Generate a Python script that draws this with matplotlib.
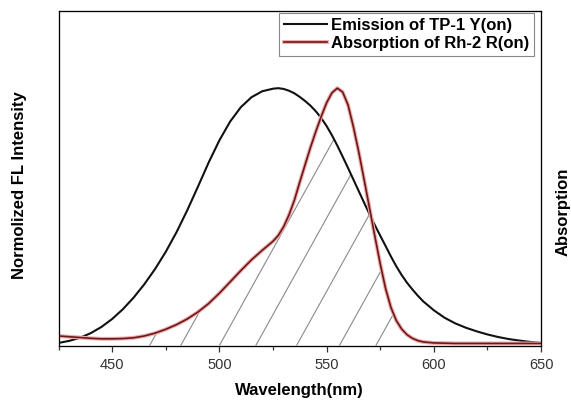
import numpy as np
import matplotlib
matplotlib.use("Agg")
import matplotlib.pyplot as plt
import matplotlib.patheffects as pe

plt.rcParams['font.family'] = ['Liberation Sans', 'DejaVu Sans']

# wavelength grid (nm), finer where the curves bend most
wl = [425, 430, 435, 440, 445, 450, 455, 460, 465, 470, 475, 480, 485, 490,
      495, 500, 505, 510, 515, 520, 525, 527.5, 530, 532.5, 535, 537.5, 540,
      542.5, 545, 547.5, 550, 552.5, 555, 557.5, 560, 562.5, 565, 567.5, 570,
      572.5, 575, 577.5, 580, 582.5, 585, 587.5, 590, 592.5, 595, 600, 605,
      610, 615, 620, 625, 630, 635, 640, 645, 650]

# Emission of TP-1 Y(on), normalized
emission = [0.010, 0.018, 0.030, 0.048, 0.072, 0.103, 0.141, 0.186, 0.238,
            0.297, 0.364, 0.440, 0.525, 0.617, 0.711, 0.797, 0.870, 0.926,
            0.965, 0.988, 0.998, 1.000, 0.997, 0.990, 0.980, 0.966, 0.950,
            0.932, 0.910, 0.884, 0.853, 0.817, 0.777, 0.734, 0.690, 0.645,
            0.600, 0.555, 0.511, 0.468, 0.427, 0.387, 0.346, 0.308, 0.274,
            0.244, 0.218, 0.194, 0.172, 0.137, 0.108, 0.086, 0.069, 0.055,
            0.043, 0.033, 0.025, 0.019, 0.014, 0.010]

# Absorption of Rh-2 R(on), normalized
absorption = [0.037, 0.034, 0.031, 0.028, 0.026, 0.026, 0.027, 0.030, 0.037,
              0.048, 0.063, 0.081, 0.103, 0.130, 0.163, 0.203, 0.247, 0.291,
              0.333, 0.370, 0.405, 0.428, 0.462, 0.508, 0.565, 0.635, 0.703,
              0.770, 0.832, 0.890, 0.943, 0.982, 1.000, 0.985, 0.935, 0.850,
              0.752, 0.645, 0.535, 0.425, 0.318, 0.222, 0.148, 0.097, 0.064,
              0.042, 0.028, 0.019, 0.014, 0.010, 0.009, 0.008, 0.008, 0.008,
              0.008, 0.008, 0.008, 0.008, 0.008, 0.008]

# where the overlap hatch lines leave the baseline (nm)
hatch_starts = [467.5, 482, 500, 517, 536, 556, 573]

wl = np.array(wl)
emission = np.array(emission)
absorption = np.array(absorption)

fig = plt.figure(figsize=(5.71, 4.01), dpi=100)
ax = fig.add_axes([0.1025, 0.1384, 0.845, 0.8342])

# overlap region, used only as clip for the hatch lines
overlap = ax.fill_between(wl, 0, np.minimum(emission, absorption),
                          facecolor='none', edgecolor='none')
clip = overlap.get_paths()[0]
slope = 0.015  # data units per nm, steep hatch
for s in hatch_starts:
    hl, = ax.plot([s, s + 70], [0, 70 * slope], color='#8a8a8a', lw=0.8, zorder=1)
    hl.set_clip_path(clip, ax.transData)

ax.plot(wl, emission, color='#111111', lw=1.5, zorder=3,
        label='Emission of TP-1 Y(on)')
ax.plot(wl, absorption, color='#6b1818', lw=1.2, zorder=4,
        path_effects=[pe.Stroke(linewidth=2.8, foreground='#eeaaaa'), pe.Normal()],
        label='Absorption of Rh-2 R(on)')

ax.set_xlim(425, 650)
ax.set_ylim(0, 1.30)
ax.set_xticks([450, 500, 550, 600, 650])
ax.set_xticks([425, 475, 525, 575, 625], minor=True)
ax.set_yticks([])
ax.tick_params(axis='x', which='major', direction='out', length=4, width=0.9,
               labelsize=10.5, colors='#333333', pad=5)
ax.tick_params(axis='x', which='minor', direction='out', length=3, width=0.9,
               colors='#333333')
for sp in ax.spines.values():
    sp.set_color('#333333')
    sp.set_linewidth(0.9)

ax.set_xlabel('Wavelength(nm)', fontsize=12, fontweight='bold', labelpad=8)
ax.set_ylabel('Normolized FL Intensity', fontsize=12, fontweight='bold',
              va='center', ha='center')
ax.yaxis.set_label_coords(-0.08, 0.48)

ax2 = ax.twinx()
ax2.set_yticks([])
ax2.set_ylabel('Absorption', fontsize=12, fontweight='bold',
               va='center', ha='center')
ax2.yaxis.set_label_coords(1.046, 0.40)

leg = ax.legend(loc='upper right', bbox_to_anchor=(0.986, 0.995), borderaxespad=0,
                prop={'weight': 'bold', 'size': 12}, frameon=True,
                fancybox=False, framealpha=1, edgecolor='#888888',
                handlelength=2.6, handletextpad=0.25, borderpad=0.3,
                labelspacing=0.2)
leg.get_frame().set_linewidth(0.8)

fig.savefig('out.png', dpi=100)
